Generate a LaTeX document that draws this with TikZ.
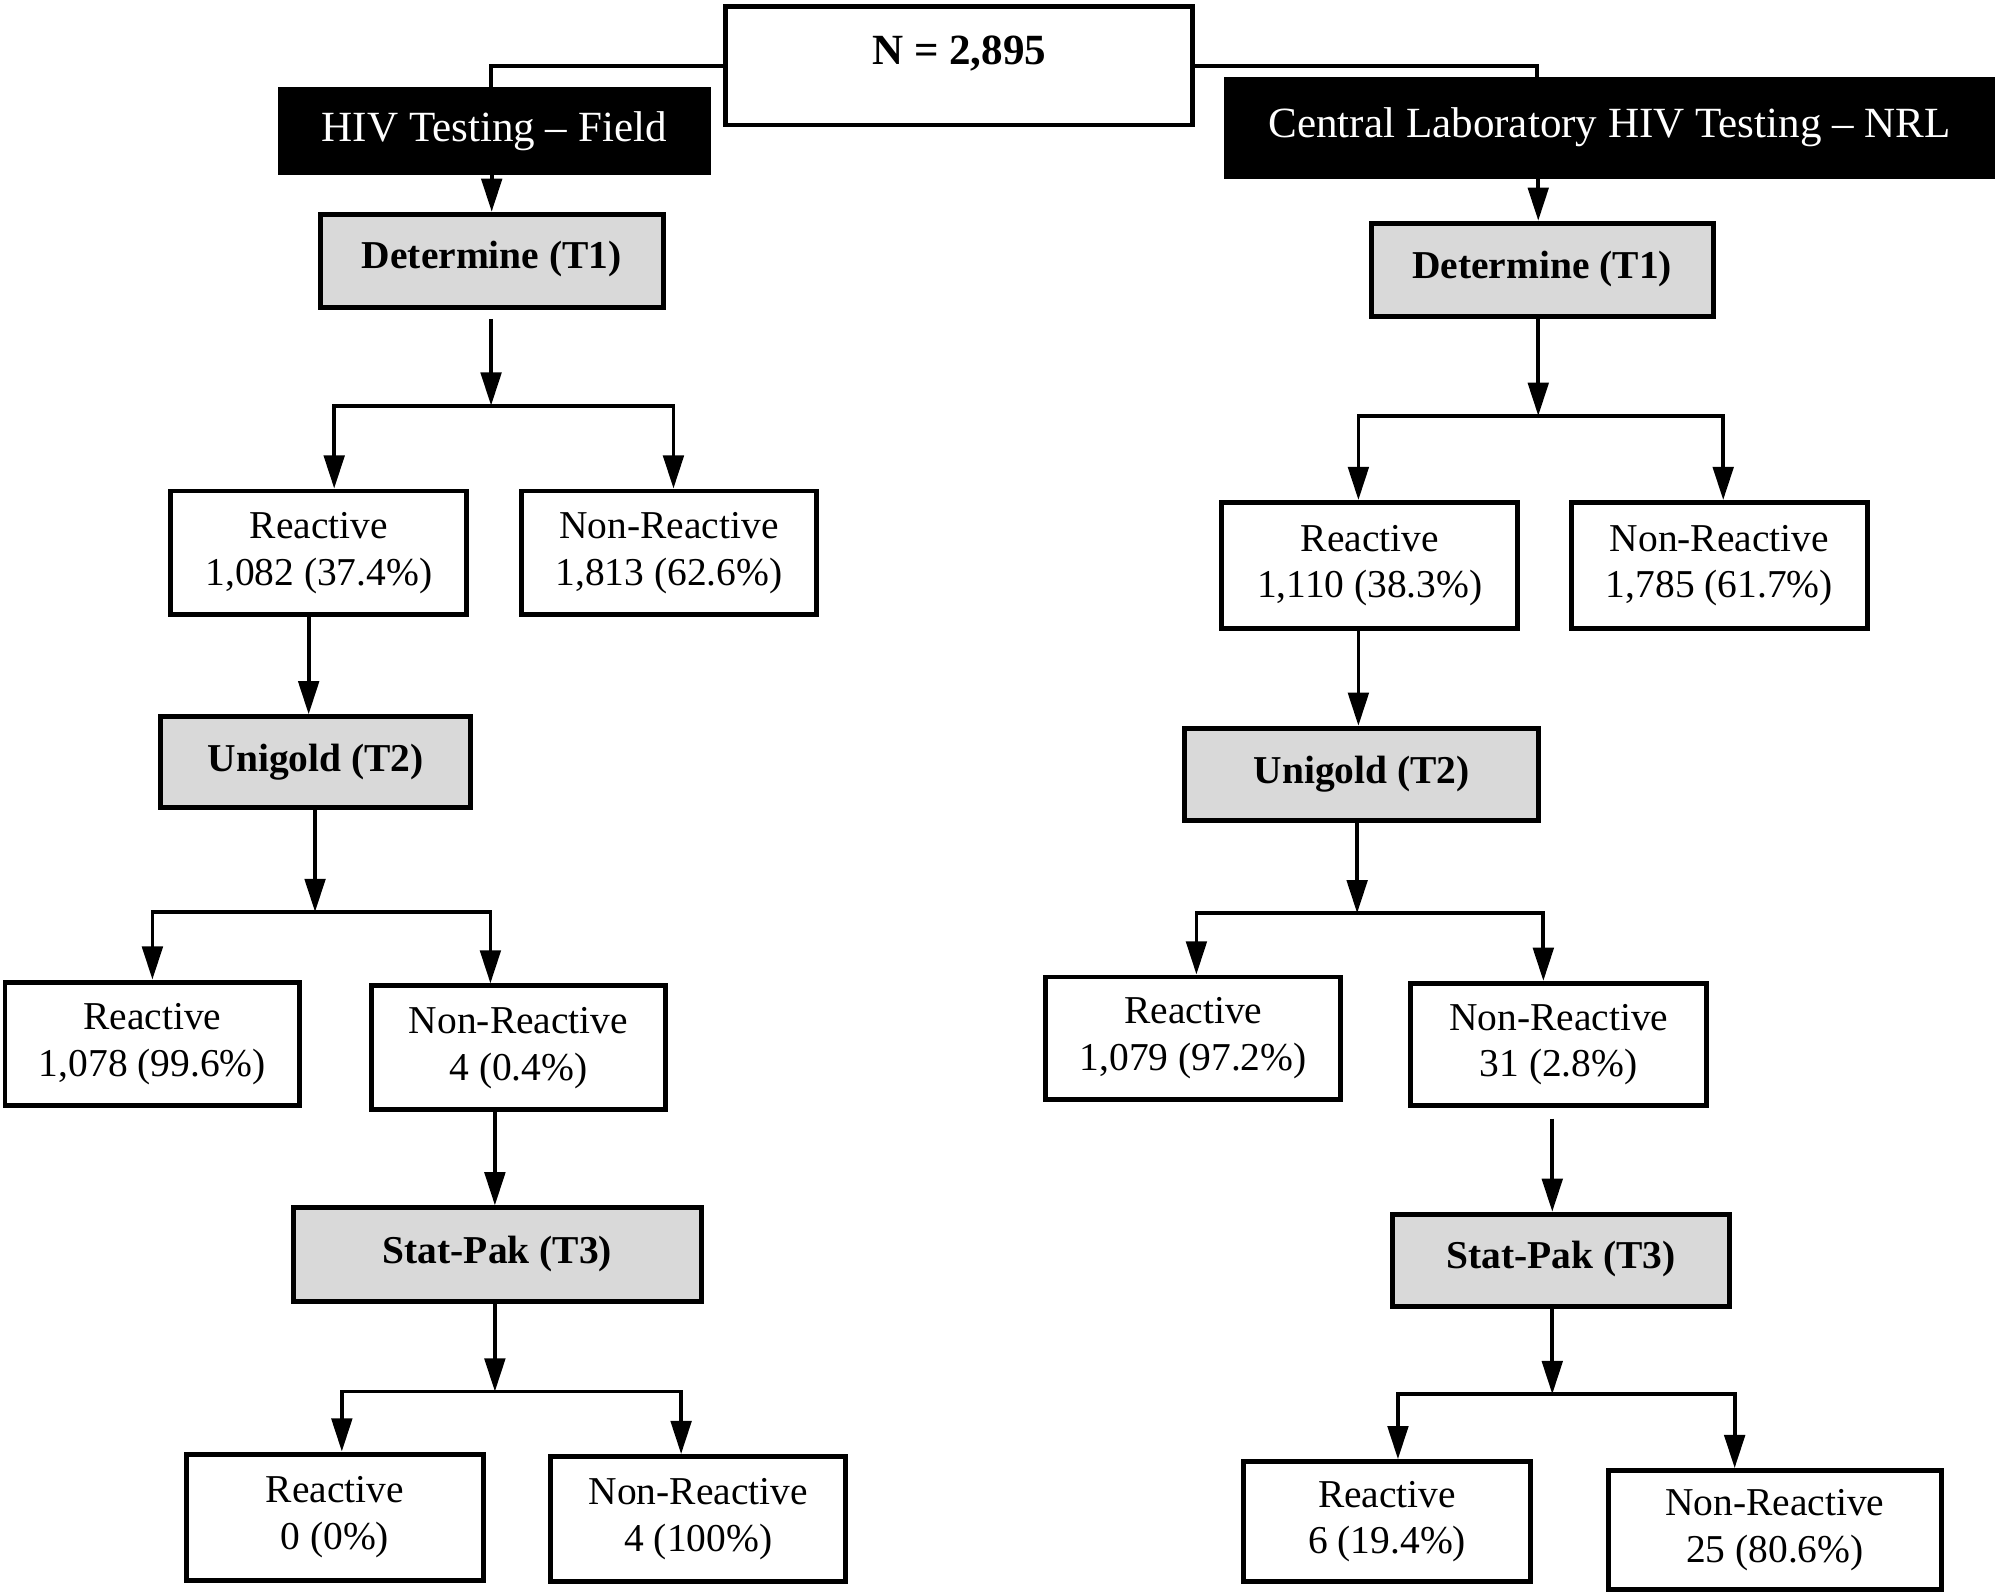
\documentclass[tikz,border=0pt]{standalone}
\usepackage{fontspec}
\setmainfont{Liberation Serif}
\usetikzlibrary{arrows.meta}
\definecolor{boxgray}{HTML}{D9D9D9}
\newcommand\mkbox[7]{\node[#6, minimum width={(#4-#2)*0.28453pt}, minimum height={(#5-#3)*0.28453pt}] (#1) at ({(#2+#4)/2},{(#3+#5)/2}) {#7};}
\tikzset{
  base/.style={draw=black, line width=1.1pt, inner sep=0pt, align=center, font=\fontsize{8.8}{10.4}\selectfont},
  whitebox/.style={base, fill=white},
  graybox/.style={base, fill=boxgray, font=\fontsize{8.8}{10.4}\selectfont\bfseries},
  blackbox/.style={base, fill=black, text=white, font=\fontsize{9.6}{11}\selectfont},
  conn/.style={line width=0.85pt},
  arr/.style={conn, -{Triangle[length=0.26cm, width=0.16cm]}},
}
\begin{document}
\begin{tikzpicture}[x=0.01cm, y=-0.01cm]
\useasboundingbox (0,0) rectangle (1568,1249);
% top
\mkbox{n}{569}{5}{935}{98}{whitebox}{}
\node[font=\fontsize{9.6}{11}\selectfont\bfseries] (ntext) at (752,42) {N = 2,895};
\mkbox{field}{220}{70}{555}{135}{blackbox}{HIV Testing -- Field}
\mkbox{central}{962}{62}{1562}{138}{blackbox}{Central Laboratory HIV Testing -- NRL}
% left column
\mkbox{det1}{251}{168}{520}{241}{graybox}{\raisebox{0.1cm}{Determine (T1)}}
\mkbox{r1}{134}{385}{366}{482}{whitebox}{Reactive\\1,082 (37.4\%)}
\mkbox{nr1}{409}{385}{640}{482}{whitebox}{Non-Reactive\\1,813 (62.6\%)}
\mkbox{ug1}{126}{562}{369}{633}{graybox}{\raisebox{0.05cm}{Unigold (T2)}}
\mkbox{r2}{4}{770}{235}{867}{whitebox}{Reactive\\1,078 (99.6\%)}
\mkbox{nr2}{291}{773}{522}{870}{whitebox}{Non-Reactive\\4 (0.4\%)}
\mkbox{st1}{230}{947}{550}{1020}{graybox}{\raisebox{0.08cm}{Stat-Pak (T3)}}
\mkbox{r3}{146}{1140}{379}{1239}{whitebox}{Reactive\\0 (0\%)}
\mkbox{nr3}{432}{1142}{663}{1240}{whitebox}{Non-Reactive\\4 (100\%)}
% right column
\mkbox{det2}{1075}{175}{1343}{248}{graybox}{\raisebox{0.08cm}{Determine (T1)}}
\mkbox{r4}{958}{394}{1190}{493}{whitebox}{Reactive\\1,110 (38.3\%)}
\mkbox{nr4}{1232}{394}{1464}{493}{whitebox}{Non-Reactive\\1,785 (61.7\%)}
\mkbox{ug2}{929}{571}{1206}{643}{graybox}{\raisebox{0.05cm}{Unigold (T2)}}
\mkbox{r5}{820}{766}{1051}{862}{whitebox}{Reactive\\1,079 (97.2\%)}
\mkbox{nr5}{1106}{771}{1338}{867}{whitebox}{Non-Reactive\\31 (2.8\%)}
\mkbox{st2}{1092}{952}{1356}{1024}{graybox}{\raisebox{0.08cm}{Stat-Pak (T3)}}
\mkbox{r6}{975}{1146}{1200}{1240}{whitebox}{Reactive\\6 (19.4\%)}
\mkbox{nr6}{1261}{1153}{1522}{1246}{whitebox}{Non-Reactive\\25 (80.6\%)}
% split points
\coordinate (sp1) at (385,318);
\coordinate (sp2) at (247,715);
\coordinate (sp3) at (388,1091);
\coordinate (sp4) at (1206,326);
\coordinate (sp5) at (1064,716);
\coordinate (sp6) at (1217,1093);
% connectors top
\draw[conn] (n.west) -| ([xshift=-0.025cm]field.north);
\draw[conn] (n.east) -| ([xshift=-0.04cm]det2.north |- central.north);
% left
\draw[arr] (det1.north |- field.south) -- (det1.north);
\draw[arr] ([yshift=-0.07cm]sp1 |- det1.south) -- (sp1);
\draw[arr] (sp1) -| ([xshift=0.12cm]r1.north);
\draw[arr] (sp1) -| ([xshift=0.035cm]nr1.north);
\draw[arr] ([xshift=-0.08cm]r1.south) -- ([xshift=-0.08cm]r1.south |- ug1.north);
\draw[arr] (sp2 |- ug1.south) -- (sp2);
\draw[arr] (sp2) -| (r2.north);
\draw[arr] (sp2) -| ([xshift=-0.22cm]nr2.north);
\draw[arr] (sp3 |- nr2.south) -- (sp3 |- st1.north);
\draw[arr] (sp3 |- st1.south) -- (sp3);
\draw[arr] (sp3) -| ([xshift=0.055cm]r3.north);
\draw[arr] (sp3) -| ([xshift=-0.135cm]nr3.north);
% right
\draw[arr] (sp4 |- central.south) -- (sp4 |- det2.north);
\draw[arr] (sp4 |- det2.south) -- (sp4);
\draw[arr] (sp4) -| ([xshift=-0.09cm]r4.north);
\draw[arr] (sp4) -| ([xshift=0.03cm]nr4.north);
\draw[arr] ([xshift=-0.09cm]r4.south) -- ([xshift=-0.09cm]r4.south |- ug2.north);
\draw[arr] (sp5 |- ug2.south) -- (sp5);
\draw[arr] (sp5) -| ([xshift=0.025cm]r5.north);
\draw[arr] (sp5) -| ([xshift=-0.12cm]nr5.north);
\draw[arr] ([yshift=-0.08cm]sp6 |- nr5.south) -- (sp6 |- st2.north);
\draw[arr] (sp6 |- st2.south) -- (sp6);
\draw[arr] (sp6) -| ([xshift=0.085cm]r6.north);
\draw[arr] (sp6) -| ([xshift=-0.315cm]nr6.north);
\end{tikzpicture}
\end{document}
